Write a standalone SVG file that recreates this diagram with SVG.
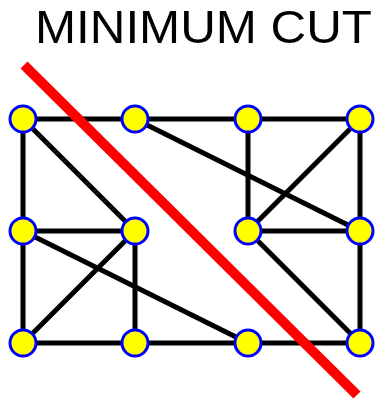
<svg xmlns="http://www.w3.org/2000/svg" width="376" height="405" viewBox="0 0 376 405">
<style>
.e{stroke:#000;stroke-width:5;fill:none}
.n{fill:#ffff00;stroke:#0000ff;stroke-width:3}
.t{font-family:"Liberation Sans",Arial,sans-serif;font-size:47px;fill:#000}
</style>
<rect width="376" height="405" fill="#fff"/>
<text class="t" x="35" y="43" textLength="337" lengthAdjust="spacingAndGlyphs">MINIMUM CUT</text>
<g id="connectors">
<line class="e" x1="23" y1="119" x2="360" y2="119"/>
<line class="e" x1="23" y1="119" x2="23" y2="343"/>
<line class="e" x1="23" y1="119" x2="135" y2="231"/>
<line class="e" x1="23" y1="231" x2="135" y2="231"/>
<line class="e" x1="23" y1="231" x2="248" y2="343"/>
<line class="e" x1="135" y1="231" x2="23" y2="343"/>
<line class="e" x1="135" y1="231" x2="135" y2="343"/>
<line class="e" x1="23" y1="343" x2="360" y2="343"/>
<line class="e" x1="135" y1="119" x2="360" y2="231"/>
<line class="e" x1="248" y1="119" x2="248" y2="231"/>
<line class="e" x1="360" y1="119" x2="248" y2="231"/>
<line class="e" x1="360" y1="119" x2="360" y2="343"/>
<line class="e" x1="248" y1="231" x2="360" y2="231"/>
<line class="e" x1="248" y1="231" x2="360" y2="343"/>
</g>
<g id="cut"><line x1="24" y1="65" x2="357" y2="395" stroke="#ff0000" stroke-width="10"/></g>
<g id="n00"><circle class="n" cx="23" cy="119" r="13"/></g>
<g id="n10"><circle class="n" cx="135" cy="119" r="13"/></g>
<g id="n20"><circle class="n" cx="248" cy="119" r="13"/></g>
<g id="n30"><circle class="n" cx="360" cy="119" r="13"/></g>
<g id="n01"><circle class="n" cx="23" cy="231" r="13"/></g>
<g id="n11"><circle class="n" cx="135" cy="231" r="13"/></g>
<g id="n21"><circle class="n" cx="248" cy="231" r="13"/></g>
<g id="n31"><circle class="n" cx="360" cy="231" r="13"/></g>
<g id="n02"><circle class="n" cx="23" cy="343" r="13"/></g>
<g id="n12"><circle class="n" cx="135" cy="343" r="13"/></g>
<g id="n22"><circle class="n" cx="248" cy="343" r="13"/></g>
<g id="n32"><circle class="n" cx="360" cy="343" r="13"/></g>
</svg>
